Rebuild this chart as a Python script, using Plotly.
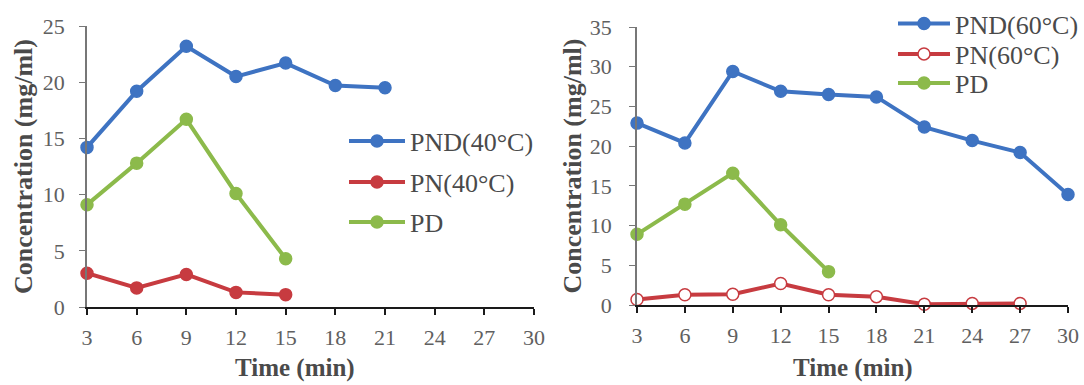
import plotly.graph_objects as go

time_left = [3, 6, 9, 12, 15, 18, 21]
pnd40 = [14.2, 19.2, 23.2, 20.5, 21.7, 19.7, 19.5]
time_short = [3, 6, 9, 12, 15]
pn40 = [3.0, 1.7, 2.9, 1.3, 1.1]
pd_left = [9.1, 12.8, 16.7, 10.1, 4.3]

time_right = [3, 6, 9, 12, 15, 18, 21, 24, 27, 30]
pnd60 = [22.9, 20.4, 29.4, 26.9, 26.5, 26.2, 22.4, 20.7, 19.2, 13.9]
time_pn60 = [3, 6, 9, 12, 15, 18, 21, 24, 27]
pn60 = [0.7, 1.3, 1.35, 2.7, 1.3, 1.05, 0.1, 0.2, 0.2]
pd_right = [8.9, 12.7, 16.6, 10.1, 4.2]

x_ticks = [3, 6, 9, 12, 15, 18, 21, 24, 27, 30]

BLUE = "#3E73C2"
RED = "#C73B40"
GREEN = "#8CBA4B"
FONT = "Liberation Serif"
W, H = 1084, 385
MT = 25  # top margin
PH = H - MT


def px(xp):
    return xp / W


def py(yp):
    return (H - yp) / PH


fig = go.Figure()


def add(x, y, name, color, xa, ya, legend, hollow=False):
    fig.add_trace(go.Scatter(
        x=x, y=y, name=name, mode="lines+markers",
        line=dict(color=color, width=4),
        marker=dict(size=12, color="white" if hollow else color,
                    line=dict(color=color, width=1.5)),
        xaxis=xa, yaxis=ya, legend=legend,
        cliponaxis=False,
    ))


add(time_left, pnd40, "PND(40°C)", BLUE, "x", "y", "legend")
add(time_short, pn40, "PN(40°C)", RED, "x", "y", "legend2")
add(time_short, pd_left, "PD", GREEN, "x", "y", "legend3")
add(time_right, pnd60, "PND(60°C)", BLUE, "x2", "y2", "legend4")
add(time_pn60, pn60, "PN(60°C)", RED, "x2", "y2", "legend5", hollow=True)
add(time_short, pd_right, "PD", GREEN, "x2", "y2", "legend6")

tickfont = dict(family=FONT, size=22, color="#606060")
titlefont = dict(family=FONT, size=26, color="#4a4a4a", weight="bold")
xtitlefont = dict(family=FONT, size=25, color="#4a4a4a", weight="bold")

xcommon = dict(range=[3, 30], tickvals=x_ticks, showline=True, linecolor="#1a1a1a",
               linewidth=2, ticks="outside", ticklen=6, tickcolor="#1a1a1a",
               tickwidth=2, showgrid=False, zeroline=False, tickfont=tickfont,
               ticklabelstandoff=4, automargin=False)


def ycommon(label_standoff, title_standoff):
    return dict(showline=True, linecolor="#777777", linewidth=1.5, ticks="outside",
                ticklen=6, tickcolor="#777777", showgrid=False, zeroline=False,
                tickfont=tickfont, ticklabelstandoff=label_standoff, automargin=False,
                title=dict(text="Concentration (mg/ml)", font=titlefont,
                           standoff=title_standoff))


legfont = dict(family=FONT, size=26, color="#4a4a4a")


def leg(xpx, ypx, iw, anchor="middle"):
    return dict(x=px(xpx), y=py(ypx), xanchor="left", yanchor=anchor,
                font=legfont, bgcolor="rgba(0,0,0,0)", itemwidth=iw,
                borderwidth=0)


fig.update_layout(
    width=W, height=H,
    margin=dict(l=0, r=0, t=MT, b=0),
    paper_bgcolor="white", plot_bgcolor="white",
    showlegend=True,
    xaxis=dict(domain=[px(87), px(534)], anchor="y", **xcommon),
    yaxis=dict(domain=[py(307), py(26)], anchor="x", range=[0, 25], dtick=5,
               **ycommon(10, 3)),
    xaxis2=dict(domain=[px(637), px(1068)], anchor="y2", **xcommon),
    yaxis2=dict(domain=[py(305), py(27)], anchor="x2", range=[0, 35], dtick=5,
                **ycommon(13, 1)),
    legend=leg(344, 141, 56),
    legend2=leg(344, 182, 56),
    legend3=leg(344, 222, 56),
    legend4=leg(893, 0, 52, anchor="top"),
    legend5=leg(893, 54, 52),
    legend6=leg(893, 83, 52),
    annotations=[
        dict(text="Time (min)", x=px(294.5), y=py(368), xref="paper", yref="paper",
             xanchor="center", yanchor="middle", showarrow=False, font=xtitlefont),
        dict(text="Time (min)", x=px(853), y=py(368), xref="paper", yref="paper",
             xanchor="center", yanchor="middle", showarrow=False, font=xtitlefont),
    ],
)

fig.write_html("out.html",
               config={"displayModeBar": False},
               post_script="document.body.style.margin='0px';"
                           "document.body.style.overflow='hidden';")
